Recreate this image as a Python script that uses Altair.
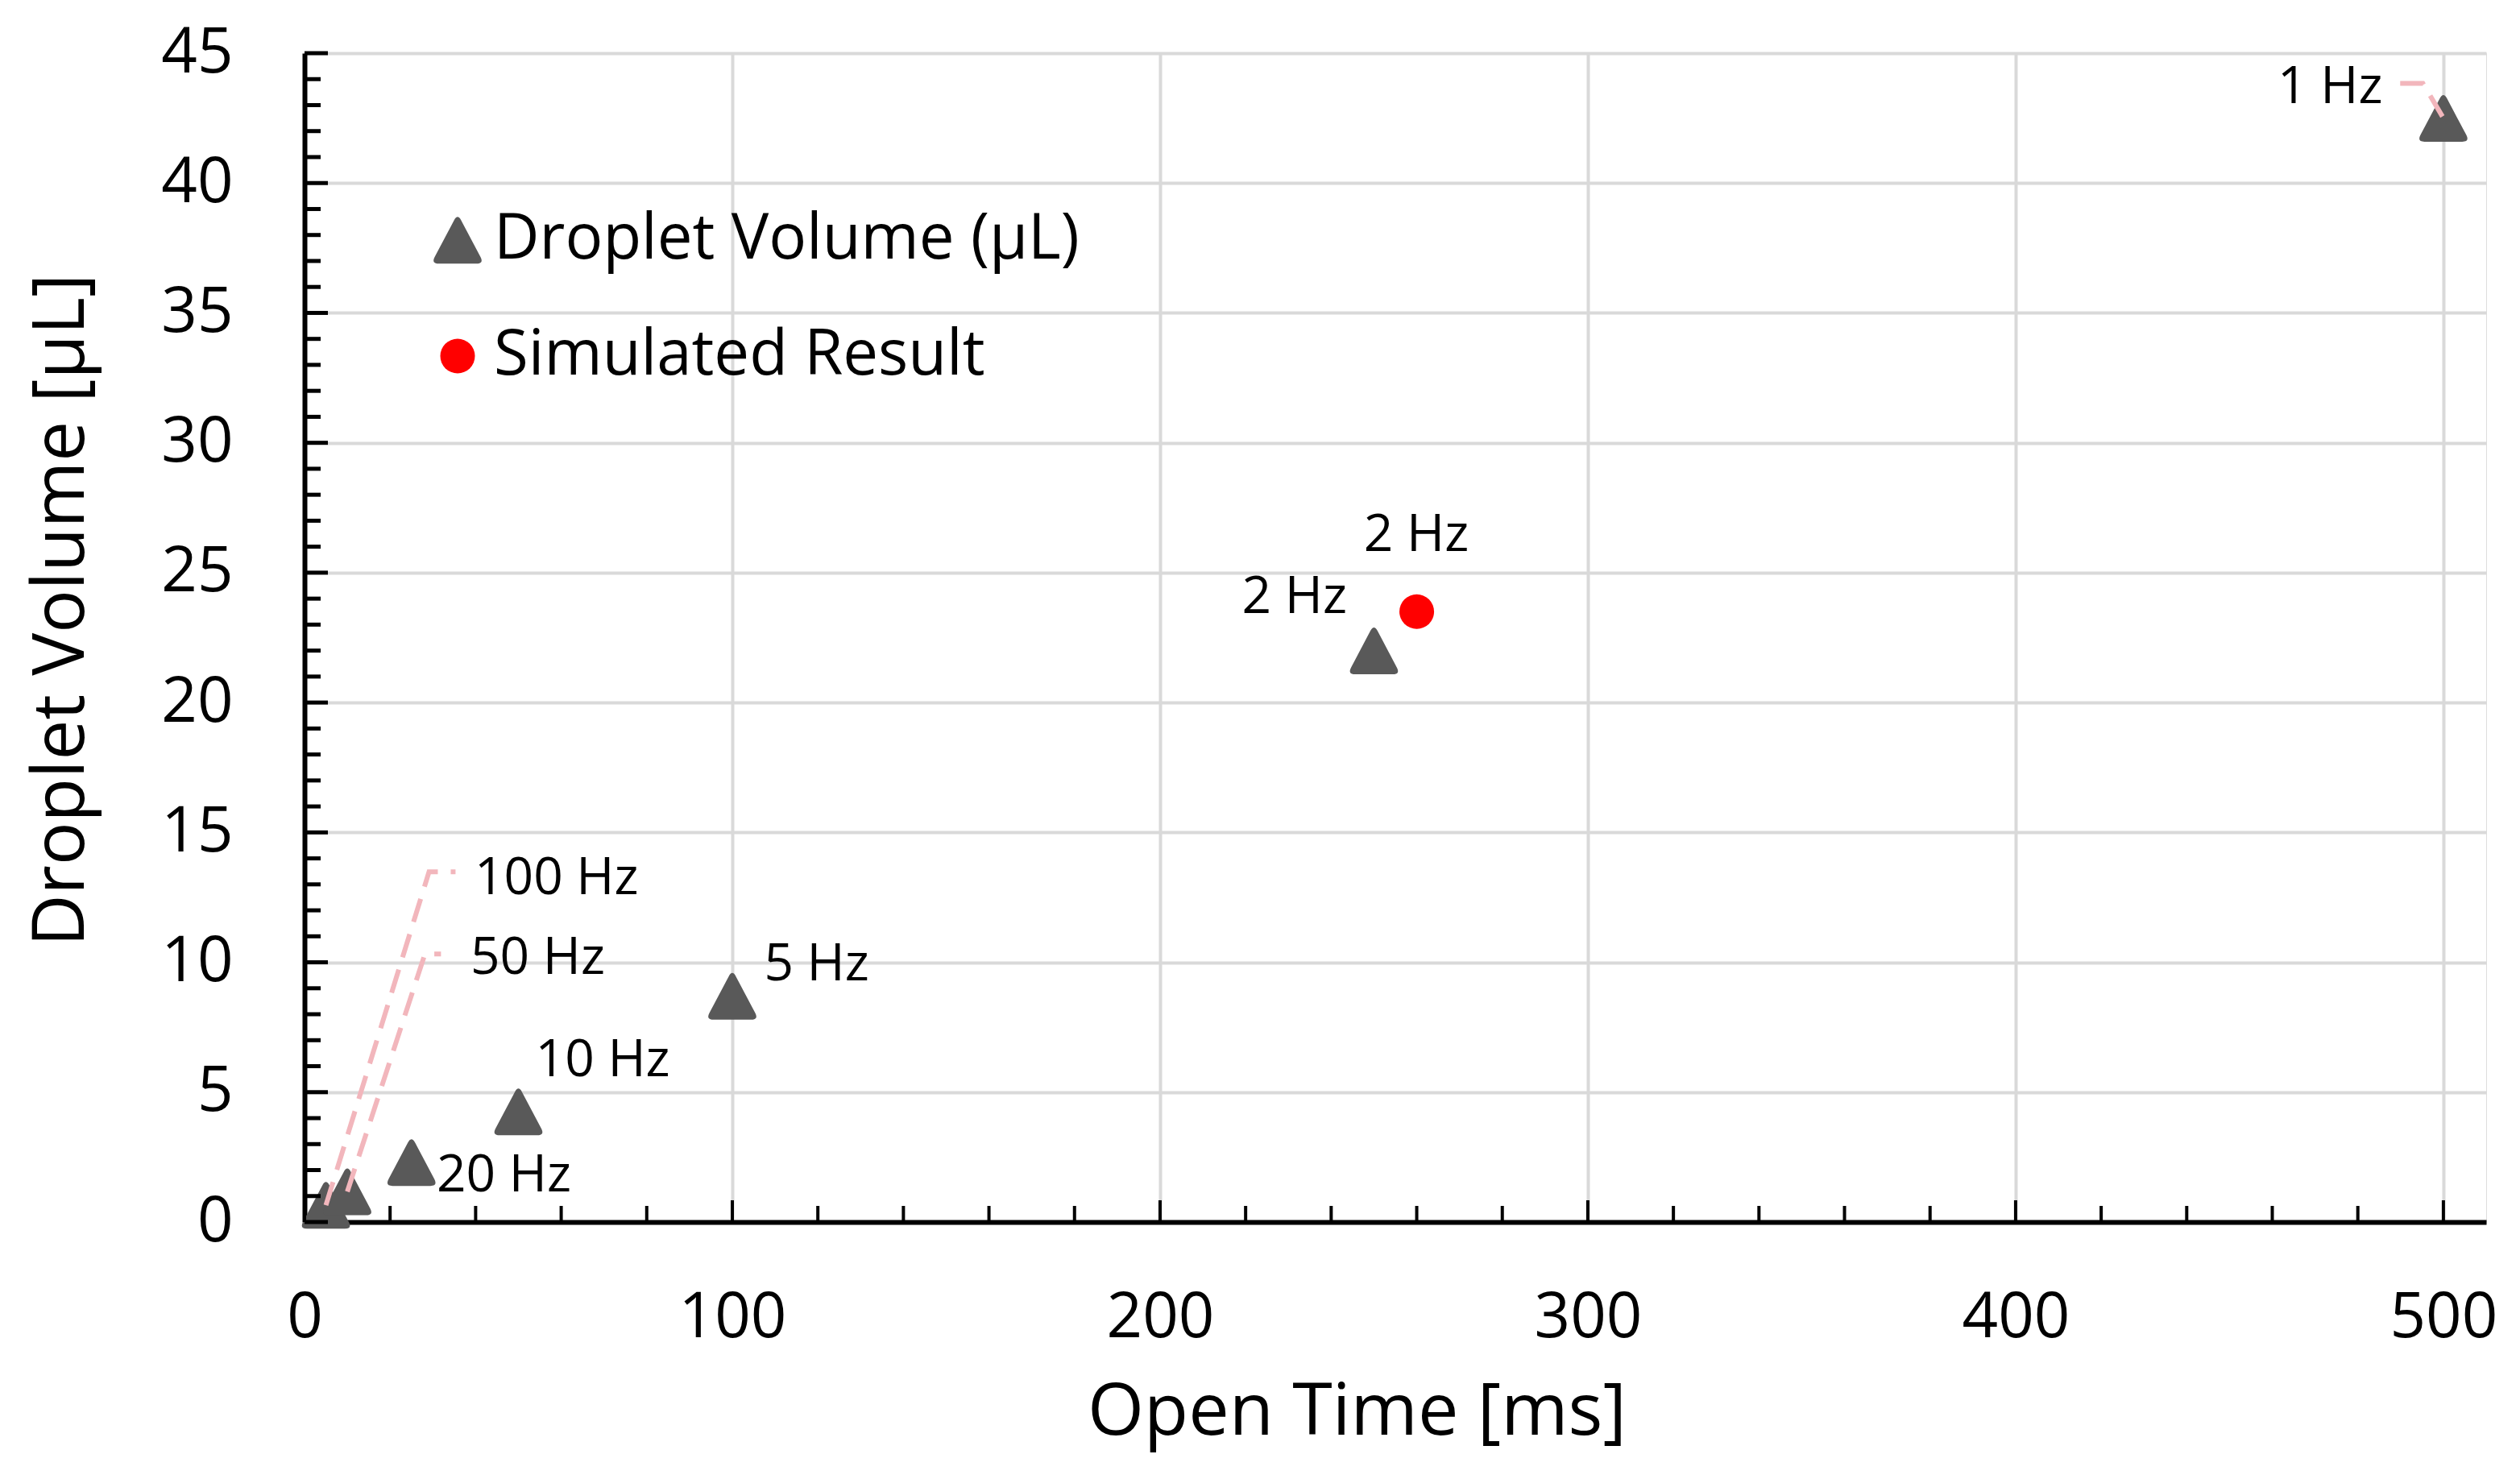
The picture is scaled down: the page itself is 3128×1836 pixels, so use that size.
import altair as alt
import pandas as pd

# ---------------- data ----------------
freq_labels = ["100 Hz", "50 Hz", "20 Hz", "10 Hz", "5 Hz", "2 Hz", "1 Hz"]
open_time_ms = [5, 10, 25, 50, 100, 250, 500]
droplet_volume_ul = [0.65, 1.17, 2.3, 4.25, 8.7, 22.0, 42.5]

sim_labels = ["2 Hz"]
sim_time_ms = [260]
sim_volume_ul = [23.5]

series_names = ["Droplet Volume (µL)", "Simulated Result"]

# data-label anchors (in data units, as placed in the figure)
label_text = ["100 Hz", "50 Hz", "20 Hz", "10 Hz", "5 Hz", "2 Hz", "1 Hz", "2 Hz"]
label_time_ms = [58.9, 54.5, 46.6, 69.7, 119.7, 231.4, 473.5, 259.9]
label_volume_ul = [13.2, 10.13, 1.76, 6.2, 9.9, 24.03, 43.66, 26.42]

# dashed leader lines (label -> point), in data units
leader_label = ["100 Hz"] * 3 + ["50 Hz"] * 3 + ["1 Hz"] * 3
leader_time_ms = [5, 29.1, 35.3, 10, 28.15, 31.9, 489.9, 495.2, 500]
leader_volume_ul = [0.65, 13.48, 13.48, 1.17, 10.32, 10.32, 43.84, 43.84, 42.5]
leader_order = [0, 1, 2] * 3

x_major = [0, 100, 200, 300, 400, 500]
y_major = [0, 5, 10, 15, 20, 25, 30, 35, 40, 45]
x_minor = [v for v in range(0, 501, 20) if v % 100]
y_minor = [v for v in range(0, 46) if v % 5]

# ---------------- tables ----------------
pts = pd.DataFrame({
    "t": open_time_ms + sim_time_ms,
    "v": droplet_volume_ul + sim_volume_ul,
    "series": [series_names[0]] * len(open_time_ms) + [series_names[1]] * len(sim_time_ms),
})
labels = pd.DataFrame({"t": label_time_ms, "v": label_volume_ul, "txt": label_text})
leaders = pd.DataFrame({"t": leader_time_ms, "v": leader_volume_ul,
                        "lab": leader_label, "o": leader_order})
yt_major = pd.DataFrame({"v": y_major})
yt_minor = pd.DataFrame({"v": y_minor})
xt_major = pd.DataFrame({"t": x_major})
xt_minor = pd.DataFrame({"t": x_minor})


# rounded-corner triangle symbol (unit box)
def rounded_triangle(ax=0.0, ay=-1.12, bx=1.12, by=1.0, d=0.32):
    A = (ax, ay); B = (bx, by); C = (-bx, by)

    def toward(P, Q, dist):
        vx, vy = Q[0] - P[0], Q[1] - P[1]
        L = (vx * vx + vy * vy) ** 0.5
        return (P[0] + vx * dist / L, P[1] + vy * dist / L)

    a1, a2 = toward(A, C, d), toward(A, B, d)
    b1, b2 = toward(B, A, d), toward(B, C, d)
    c1, c2 = toward(C, B, d), toward(C, A, d)
    f = lambda p: f"{p[0]:.3f},{p[1]:.3f}"
    return (f"M{f(a1)}Q{f(A)} {f(a2)}L{f(b1)}Q{f(B)} {f(b2)}"
            f"L{f(c1)}Q{f(C)} {f(c2)}Z")


W, H = 2708, 1451
FONT = "Open Sans"
TRI = rounded_triangle()
GRAY = "#595959"
RED = "#FF0000"
PINK = "#F2B6BC"

xscale = alt.Scale(domain=[0, 510], nice=False, zero=False)
yscale = alt.Scale(domain=[0, 45], nice=False, zero=False)

xaxis = alt.Axis(values=x_major, grid=True, gridColor="#D9D9D9", gridWidth=4,
                 ticks=False, tickSize=0, domainColor="black", domainWidth=6,
                 labelFont=FONT, labelFontSize=78, labelColor="black", labelPadding=80,
                 labelFlush=False, labelOverlap=False,
                 title="Open Time [ms]", titleFont=FONT, titleFontSize=90,
                 titleFontWeight="normal", titleColor="black",
                 titleX=1306, titleY=263, titleBaseline="alphabetic", titleAlign="center")
yaxis = alt.Axis(values=y_major, grid=True, gridColor="#D9D9D9", gridWidth=4,
                 ticks=False, tickSize=0, domainColor="black", domainWidth=6,
                 labelFont=FONT, labelFontSize=78, labelColor="black", labelPadding=89,
                 labelFlush=False, labelOverlap=False,
                 title="Droplet Volume [µL]", titleFont=FONT, titleFontSize=89,
                 titleFontWeight="normal", titleColor="black", titleAngle=270,
                 titleX=-275, titleY=691, titleBaseline="alphabetic", titleAlign="center")

leg = alt.Legend(title=None, orient="none", legendX=151, legendY=193,
                 labelFont=FONT, labelFontSize=78, labelColor="black", labelOffset=6,
                 labelLimit=3000, rowPadding=66, symbolStrokeWidth=0, symbolOpacity=1,
                 padding=0)

points = alt.Chart(pts).mark_point(filled=True, opacity=1, strokeWidth=0).encode(
    x=alt.X("t:Q", scale=xscale, axis=xaxis),
    y=alt.Y("v:Q", scale=yscale, axis=yaxis),
    shape=alt.Shape("series:N", scale=alt.Scale(domain=series_names, range=[TRI, "circle"]), legend=leg),
    color=alt.Color("series:N", scale=alt.Scale(domain=series_names, range=[GRAY, RED]), legend=leg),
    size=alt.Size("series:N", scale=alt.Scale(domain=series_names, range=[3434, 1849]), legend=leg),
)

ytick_major = alt.Chart(yt_major).mark_rule(color="black", strokeWidth=5).encode(
    y=alt.Y("v:Q", scale=yscale), x=alt.value(0), x2=alt.value(29))
ytick_minor = alt.Chart(yt_minor).mark_rule(color="black", strokeWidth=5).encode(
    y=alt.Y("v:Q", scale=yscale), x=alt.value(0), x2=alt.value(20))
xtick_major = alt.Chart(xt_major).mark_rule(color="black", strokeWidth=4).encode(
    x=alt.X("t:Q", scale=xscale), y=alt.value(H), y2=alt.value(H - 27))
xtick_minor = alt.Chart(xt_minor).mark_rule(color="black", strokeWidth=4).encode(
    x=alt.X("t:Q", scale=xscale), y=alt.value(H), y2=alt.value(H - 20))

lines = alt.Chart(leaders).mark_line(color=PINK, strokeWidth=6, strokeDash=[30, 16]).encode(
    x=alt.X("t:Q", scale=xscale), y=alt.Y("v:Q", scale=yscale),
    detail="lab:N", order="o:Q")

texts = alt.Chart(labels).mark_text(font=FONT, fontSize=64, color="black",
                                    align="center", baseline="middle").encode(
    x=alt.X("t:Q", scale=xscale), y=alt.Y("v:Q", scale=yscale), text="txt:N")

chart = alt.layer(points, ytick_major, ytick_minor, xtick_major, xtick_minor, lines, texts).properties(
    width=W, height=H,
    autosize=alt.AutoSizeParams(type="none"),
    padding={"left": 370, "top": 58, "right": 30, "bottom": 300},
    background="white",
).configure_view(stroke="black", strokeWidth=6).configure(font=FONT)

chart.save("out.html", embed_options={"renderer": "svg", "actions": False})
